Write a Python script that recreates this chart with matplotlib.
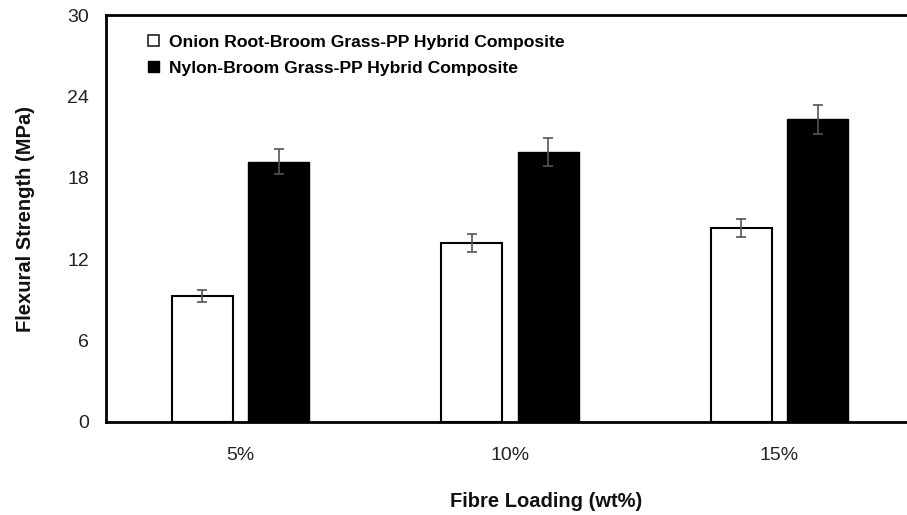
import numpy as np
import matplotlib
matplotlib.use("Agg")
import matplotlib.pyplot as plt
from matplotlib.patches import Patch

plt.rcParams['font.family'] = ['Liberation Sans', 'DejaVu Sans']

# data
loadings = ['5%', '10%', '15%']
onion_root = [9.3, 13.2, 14.3]
onion_err = [0.45, 0.65, 0.7]
nylon = [19.2, 19.9, 22.3]
nylon_err = [0.9, 1.0, 1.1]
yticks = [0, 6, 12, 18, 24, 30]

fig = plt.figure(figsize=(9.07, 5.15), dpi=100)
# axes runs slightly past the right edge, like the cropped original
ax = fig.add_axes([106 / 907, 1 - 422 / 515, 808 / 907, 407 / 515])

x = np.arange(len(loadings))
w = 0.227
off = 0.142
ax.bar(x - off, onion_root, w, color='white', edgecolor='black', linewidth=1.5)
ax.bar(x + off, nylon, w, color='black', edgecolor='black', linewidth=1.0)
ax.errorbar(x - off, onion_root, yerr=onion_err, fmt='none', ecolor='#555555',
            elinewidth=1.2, capsize=3.8, capthick=1.2)
ax.errorbar(x + off, nylon, yerr=nylon_err, fmt='none', ecolor='#555555',
            elinewidth=1.2, capsize=3.8, capthick=1.2)

ax.set_xlim(-0.5, 2.5)
ax.set_ylim(0, 30)
ax.set_yticks(yticks)
ax.set_xticks(x)
ax.set_xticklabels(loadings)
ax.tick_params(length=0, labelsize=14, colors='#222222')
ax.tick_params(axis='x', pad=18)
ax.tick_params(axis='y', pad=12)

for s in ['left', 'bottom', 'top']:
    ax.spines[s].set_linewidth(2)
ax.spines['right'].set_visible(False)

ax.set_ylabel('Flexural Strength (MPa)', fontsize=14.5, fontweight='bold', color='#111111')
ax.set_xlabel('Fibre Loading (wt%)', fontsize=14.5, fontweight='bold', color='#111111')
ax.yaxis.set_label_coords(-(106 - 35) / 808, 0.5)
ax.xaxis.set_label_coords((546 - 106) / 808, -0.172)

handles = [Patch(facecolor='white', edgecolor='#222222', linewidth=1.2),
           Patch(facecolor='black', edgecolor='black')]
ax.legend(handles, ['Onion Root-Broom Grass-PP Hybrid Composite',
                    'Nylon-Broom Grass-PP Hybrid Composite'],
          loc='upper left', bbox_to_anchor=(0.035, 0.985), frameon=False,
          prop={'weight': 'bold', 'size': 12.6}, handlelength=0.6, handleheight=0.6,
          handletextpad=0.6, labelspacing=0.6, borderpad=0.3)

fig.savefig('out.png', dpi=100)
